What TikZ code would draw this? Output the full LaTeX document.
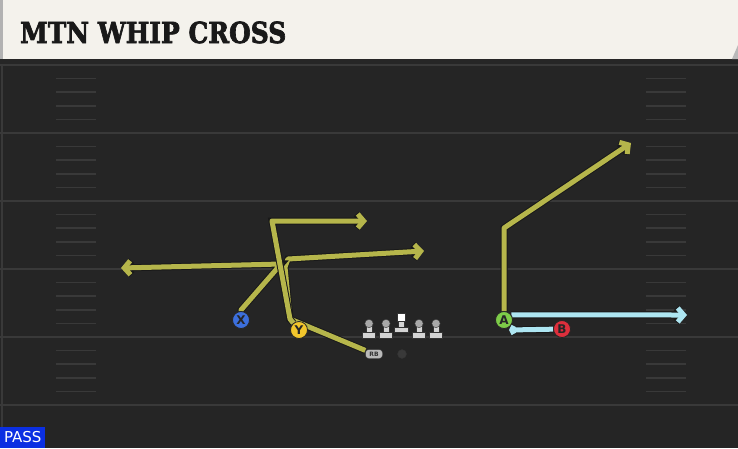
\documentclass[tikz,border=0pt]{standalone}
\usepackage{fontspec}
\setsansfont{DejaVu Sans}
\newfontfamily\titlefont[FakeBold=2.5]{DejaVu Serif}
\usetikzlibrary{arrows.meta,positioning,backgrounds}
\definecolor{fieldbg}{HTML}{252525}
\definecolor{fieldline}{HTML}{393939}
\definecolor{banner}{HTML}{F4F2EC}
\definecolor{routeyel}{HTML}{B6B64B}
\definecolor{routeblu}{HTML}{AEE6F2}
\definecolor{xblue}{HTML}{3C6FDC}
\definecolor{yyellow}{HTML}{F2C62C}
\definecolor{agreen}{HTML}{7DCC48}
\definecolor{bred}{HTML}{DD2F3C}
\definecolor{passblue}{HTML}{0B2FE2}
\definecolor{manlight}{HTML}{D4D4D4}
\definecolor{manhead}{HTML}{A8A8A8}
\begin{document}
\begin{tikzpicture}[x=1pt,y=-1pt,
  player/.style={circle,draw=black!85,line width=0.8pt,minimum size=17pt,inner sep=0pt,
    font=\sffamily\bfseries\fontsize{12}{12}\selectfont,text=black!85},
  route/.style={line width=5pt,line join=round,preaction={draw=black!90,line width=7pt}},
  tip/.style={-{Straight Barb[length=6pt,width=14pt]}},
  yroute/.style={route,draw=routeyel},
  broute/.style={route,draw=routeblu},
  hash/.style={fieldline,line width=1.6pt},
  man/.style={manlight,draw=black!80,line width=0.4pt}]
\useasboundingbox (0,0) rectangle (738,448);
% header
\fill[banner] (3,0) rectangle (738,59);
\fill[gray!60] (0,0) rectangle (3,59);
\fill[gray!55] (738,45) -- (738,59) -- (732,59) -- cycle;
\node[anchor=base west,inner sep=0pt,xscale=0.86,text=black!90,
  font=\titlefont\bfseries\fontsize{29}{29}\selectfont] (title) at (20,43) {MTN WHIP CROSS};
% players
\node[player,fill=xblue] (x) at (241,320) {X};
\node[player,fill=yyellow] (y) at (299,330) {Y};
\node[player,fill=agreen] (a) at (504,320) {A};
\node[player,fill=bred] (b) at (562,329) {B};
\node[draw=black!85,fill=gray!55,rounded corners=3pt,minimum width=17pt,minimum height=9pt,inner sep=0pt,
  font=\sffamily\bfseries\fontsize{6}{6}\selectfont,text=black!80] (rb) at (374,354) {RB};
\node[circle,fill=gray!45!black,draw=black!80,minimum size=9pt,inner sep=0pt] (ball) at (402,354) {};
\foreach \px in {369,386,419,436}{
  \filldraw[man] (\px-6.5,332) rectangle (\px+6.5,338);
  \filldraw[man] (\px-3,325) rectangle (\px+3,332);
  \filldraw[man,fill=manhead] (\px,323.5) circle (4.2);
}
\filldraw[man] (394.5,327) rectangle (408.5,332);
\filldraw[man] (398.5,321) rectangle (404.5,327);
\filldraw[man,fill=white] (397.5,313.5) rectangle (405.5,321.5);
% pass tag
\node[fill=passblue,text=white,anchor=south west,minimum width=45pt,minimum height=21pt,inner sep=0pt,
  font=\sffamily\fontsize{15}{15}\selectfont] (pass) at (0,448) {PASS};
\coordinate (xstem) at (241,310);
\coordinate (xbreak) at (281,264);
\coordinate (xend) at (121,268);
\coordinate (ycut) at (290,319);
\coordinate (ycorner) at (272,221);
\coordinate (yend) at (367,221);
\coordinate (rbup) at (285,267);
\coordinate (rbbend) at (288,259);
\coordinate (rbend) at (424,251);
\coordinate (acorner) at (504,228);
\coordinate (aend) at (631,143);
\coordinate (aflat) at (687,315);
\coordinate (bend) at (509,330);
\begin{scope}[on background layer]
\fill[fieldbg] (0,59) rectangle (738,448);
\fill[black!85] (0,59) rectangle (738,64);
\foreach \l in {65,133,201,269,337,405}
  \draw[fieldline,line width=2pt] (0,\l) -- (738,\l);
\draw[fieldline,line width=1.5pt] (2,64) -- (2,448);
\foreach \l in {65,133,201,269,337}
  \foreach \k in {1,2,3,4}{
    \draw[hash] (56,\l+\k*13.6) -- (96,\l+\k*13.6);
    \draw[hash] (646,\l+\k*13.6) -- (686,\l+\k*13.6);
  }
% routes
\draw[yroute,tip] (rb) -- (ycut) -- (rbup) -- (rbbend) -- (rbend);
\draw[yroute,tip] (x) -- (xstem) -- (xbreak) -- (xend);
\draw[yroute,tip] (y) -- (ycut) -- (ycorner) -- (yend);
\draw[yroute,tip] (a) -- (acorner) -- (aend);
\draw[broute,tip] (a.35) -- (aflat);
\draw[broute,-{Straight Barb[length=2pt,width=8pt]}] (b) -- (bend);
\end{scope}
\end{tikzpicture}
\end{document}
